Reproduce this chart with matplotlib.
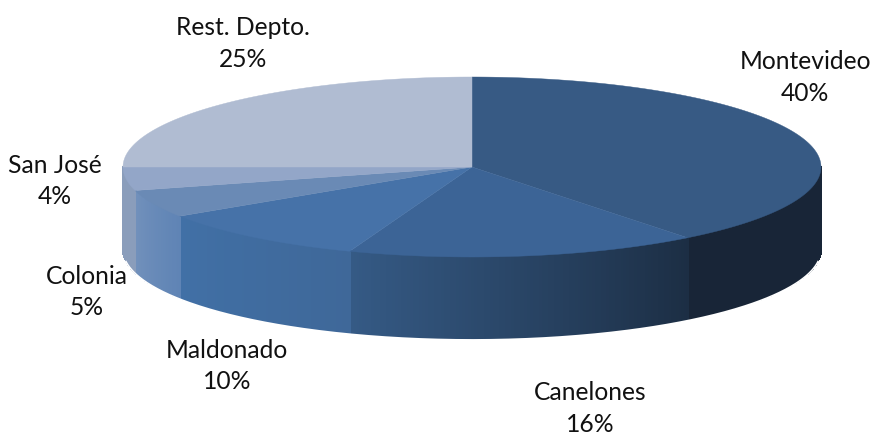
import numpy as np
import matplotlib
matplotlib.use("Agg")
import matplotlib.pyplot as plt
from matplotlib.colors import to_rgb
from matplotlib.patches import Polygon

# data
labels = ["Montevideo", "Canelones", "Maldonado", "Colonia", "San José", "Rest. Depto."]
pct_labels = ["40%", "16%", "10%", "5%", "4%", "25%"]
shares = [39.4, 16.3, 10.1, 5.0, 4.2, 25.0]

# styles
top_colors = ["#375a84", "#3c6496", "#4672a8", "#6a8ab5", "#93a6c8", "#b0bcd2"]
side_from = ["#182537", "#1c2e44", "#3f6899", "#5f84b5", "#8a9dbb", "#8a9dbb"]
side_to = ["#182537", "#355a85", "#4170a6", "#7190bb", "#8a9dbb", "#8a9dbb"]
label_xy = [(805, 77.5), (590, 408.5), (227, 366), (87, 292), (55, 181), (243, 43.5)]

cx, cy, rx, ry, depth = 472, 167, 349, 90, 82


def rim(t):
    # t in degrees, clockwise from the top of the ellipse
    r = np.radians(t)
    return cx + rx * np.sin(r), cy - ry * np.cos(r)


fig = plt.figure(figsize=(8.74, 4.36), dpi=100)
ax = fig.add_axes([0, 0, 1, 1])
ax.set_xlim(0, 874)
ax.set_ylim(436, 0)
ax.axis("off")

edges = np.concatenate([[0], np.cumsum(shares)]) * 3.6

# side wall, only the front half shows
for i in range(len(shares)):
    a = max(edges[i], 90)
    b = min(edges[i + 1], 270)
    if b <= a:
        continue
    ts = np.linspace(a, b, max(int((b - a) * 2), 2))
    c0, c1 = np.array(to_rgb(side_from[i])), np.array(to_rgb(side_to[i]))
    for j in range(len(ts) - 1):
        f = j / max(len(ts) - 2, 1)
        x0, y0 = rim(ts[j])
        x1, y1 = rim(ts[j + 1])
        col = c0 + (c1 - c0) * f
        ax.add_patch(Polygon([(x0, y0), (x1, y1), (x1, y1 + depth), (x0, y0 + depth)],
                             closed=True, fc=col, ec=col, lw=0.8, antialiased=False))

# smooth the bottom edge of the wall
ts = np.linspace(97, 263, 400)
xs, ys = rim(ts)
ax.plot(xs, ys + depth + 0.9, color="white", lw=1.2, solid_capstyle="butt")

# top face
for i in range(len(shares)):
    ts = np.linspace(edges[i], edges[i + 1], 200)
    xs, ys = rim(ts)
    pts = np.column_stack([np.r_[cx, xs], np.r_[cy, ys]])
    ax.add_patch(Polygon(pts, closed=True, fc=top_colors[i], ec=top_colors[i], lw=0.3))

for name, pct, (x, y) in zip(labels, pct_labels, label_xy):
    ax.text(x, y, f"{name}\n{pct}", ha="center", va="center", family="Lato",
            fontsize=17.7, color="#111111", linespacing=1.45)

fig.savefig("out.png", dpi=100)
